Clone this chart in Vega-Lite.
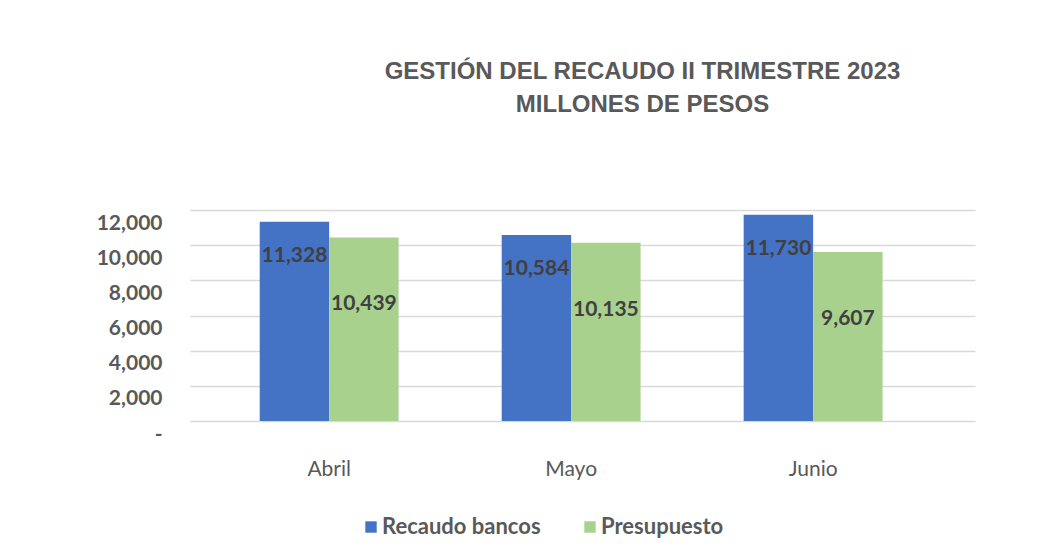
{
  "$schema": "https://vega.github.io/schema/vega-lite/v6.json",
  "autosize": {"type": "none"},
  "width": 785,
  "height": 211,
  "padding": {"left": 190, "top": 210, "right": 88, "bottom": 138},
  "background": "white",
  "title": {
    "text": ["GESTIÓN DEL RECAUDO II TRIMESTRE 2023", "MILLONES DE PESOS"],
    "font": "Liberation Sans, Arial",
    "fontSize": 24,
    "fontWeight": "bold",
    "color": "#595959",
    "anchor": "middle",
    "dx": 60,
    "offset": 93,
    "lineHeight": 33
  },
  "data": {
    "values": [
      {"mes": "Abril", "serie": "Recaudo bancos", "valor": 11328},
      {"mes": "Abril", "serie": "Presupuesto", "valor": 10439},
      {"mes": "Mayo", "serie": "Recaudo bancos", "valor": 10584},
      {"mes": "Mayo", "serie": "Presupuesto", "valor": 10135},
      {"mes": "Junio", "serie": "Recaudo bancos", "valor": 11730},
      {"mes": "Junio", "serie": "Presupuesto", "valor": 9607}
    ]
  },
  "encoding": {
    "x": {
      "field": "mes",
      "type": "nominal",
      "sort": ["Abril", "Mayo", "Junio"],
      "scale": {"paddingInner": 0.426, "paddingOuter": 0.335, "align": 0.43},
      "axis": {
        "title": null,
        "domain": false,
        "ticks": false,
        "labelAngle": 0,
        "labelPadding": 37,
        "labelFont": "Lato",
        "labelFontSize": 21,
        "labelColor": "#595959"
      }
    },
    "xOffset": {
      "field": "serie",
      "type": "nominal",
      "sort": ["Recaudo bancos", "Presupuesto"],
      "scale": {"paddingInner": 0, "paddingOuter": 0}
    },
    "y": {
      "field": "valor",
      "type": "quantitative",
      "scale": {"domain": [0, 12000], "nice": false},
      "axis": {
        "title": null,
        "domain": false,
        "ticks": false,
        "values": [0, 2000, 4000, 6000, 8000, 10000, 12000],
        "labelExpr": "datum.value == 0 ? '-' : format(datum.value, ',')",
        "labelPadding": 28,
        "labelOffset": 13,
        "labelFont": "Lato",
        "labelFontSize": 21,
        "labelFontWeight": "bold",
        "labelColor": "#595959",
        "grid": true,
        "gridColor": "#D9D9D9",
        "gridWidth": 1.5
      }
    }
  },
  "layer": [
    {
      "mark": {"type": "bar"},
      "encoding": {
        "color": {
          "field": "serie",
          "type": "nominal",
          "sort": ["Recaudo bancos", "Presupuesto"],
          "scale": {"domain": ["Recaudo bancos", "Presupuesto"], "range": ["#4472C4", "#A9D18E"]},
          "legend": {
            "title": null,
            "orient": "none",
            "direction": "horizontal",
            "legendX": 170,
            "legendY": 306,
            "symbolType": "square",
            "symbolSize": 130,
            "symbolStrokeWidth": 0,
            "symbolOpacity": 1,
            "labelFont": "Lato",
            "labelFontSize": 22,
            "labelFontWeight": "bold",
            "labelColor": "#595959",
            "labelOffset": 0,
            "columnPadding": 38
          }
        }
      }
    },
    {
      "transform": [{"filter": "datum.serie == 'Recaudo bancos'"}],
      "mark": {"type": "text", "baseline": "middle", "dy": 34, "font": "Lato", "fontSize": 21, "fontWeight": "bold", "color": "#404040"},
      "encoding": {"text": {"field": "valor", "type": "quantitative", "format": ",.0f"}}
    },
    {
      "transform": [{"filter": "datum.serie == 'Presupuesto'"}],
      "mark": {"type": "text", "baseline": "middle", "dy": 67, "font": "Lato", "fontSize": 21, "fontWeight": "bold", "color": "#404040"},
      "encoding": {"text": {"field": "valor", "type": "quantitative", "format": ",.0f"}}
    }
  ],
  "config": {"view": {"stroke": null}}
}
